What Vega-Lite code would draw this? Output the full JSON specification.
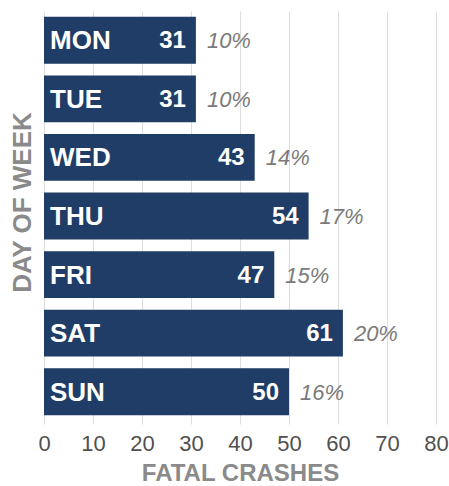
{
  "$schema": "https://vega.github.io/schema/vega-lite/v6.json",
  "width": 392,
  "height": 410,
  "autosize": {"type": "none"},
  "padding": {"left": 44, "top": 11, "right": 13, "bottom": 65},
  "background": "white",
  "data": {"values": [
    {"day": "MON", "crashes": 31, "pct": "10%"},
    {"day": "TUE", "crashes": 31, "pct": "10%"},
    {"day": "WED", "crashes": 43, "pct": "14%"},
    {"day": "THU", "crashes": 54, "pct": "17%"},
    {"day": "FRI", "crashes": 47, "pct": "15%"},
    {"day": "SAT", "crashes": 61, "pct": "20%"},
    {"day": "SUN", "crashes": 50, "pct": "16%"}
  ]},
  "config": {"view": {"stroke": null}},
  "encoding": {
    "y": {
      "field": "day", "type": "nominal", "sort": null,
      "scale": {"paddingInner": 0.2, "paddingOuter": 0.1},
      "axis": {
        "labels": false, "ticks": false, "domain": false,
        "title": "DAY OF WEEK",
        "titleFont": "Liberation Sans", "titleFontSize": 26, "titleFontWeight": "bold",
        "titleColor": "#8a8a8a", "titleAngle": -90, "titleAlign": "center",
        "titleBaseline": "middle", "titleX": -22, "titleY": 191
      }
    },
    "x": {
      "field": "crashes", "type": "quantitative",
      "scale": {"domain": [0, 80], "nice": false},
      "axis": {
        "values": [0, 10, 20, 30, 40, 50, 60, 70, 80],
        "grid": true, "gridColor": "#dddddd", "gridWidth": 1,
        "domain": false, "ticks": true, "tickColor": "#dddddd", "tickSize": 3,
        "labelFont": "Liberation Sans", "labelFontSize": 22, "labelColor": "#505050",
        "labelPadding": 9, "labelFlush": false,
        "title": "FATAL CRASHES",
        "titleFont": "Liberation Sans", "titleFontSize": 24, "titleFontWeight": "bold",
        "titleColor": "#8a8a8a", "titlePadding": 7
      }
    }
  },
  "layer": [
    {"mark": {"type": "bar", "color": "#1f3d66"}},
    {
      "mark": {"type": "text", "align": "left", "baseline": "middle", "dx": 6, "dy": 1, "color": "white",
               "font": "Liberation Sans", "fontSize": 26, "fontWeight": "bold"},
      "encoding": {"x": {"datum": 0}, "text": {"field": "day"}}
    },
    {
      "mark": {"type": "text", "align": "right", "baseline": "middle", "dx": -10, "dy": 1, "color": "white",
               "font": "Liberation Sans", "fontSize": 24, "fontWeight": "bold"},
      "encoding": {"text": {"field": "crashes"}}
    },
    {
      "mark": {"type": "text", "align": "left", "baseline": "middle", "dx": 11, "dy": 1, "color": "#7a7a7a",
               "font": "Liberation Sans", "fontSize": 22, "fontStyle": "italic"},
      "encoding": {"text": {"field": "pct"}}
    }
  ]
}
